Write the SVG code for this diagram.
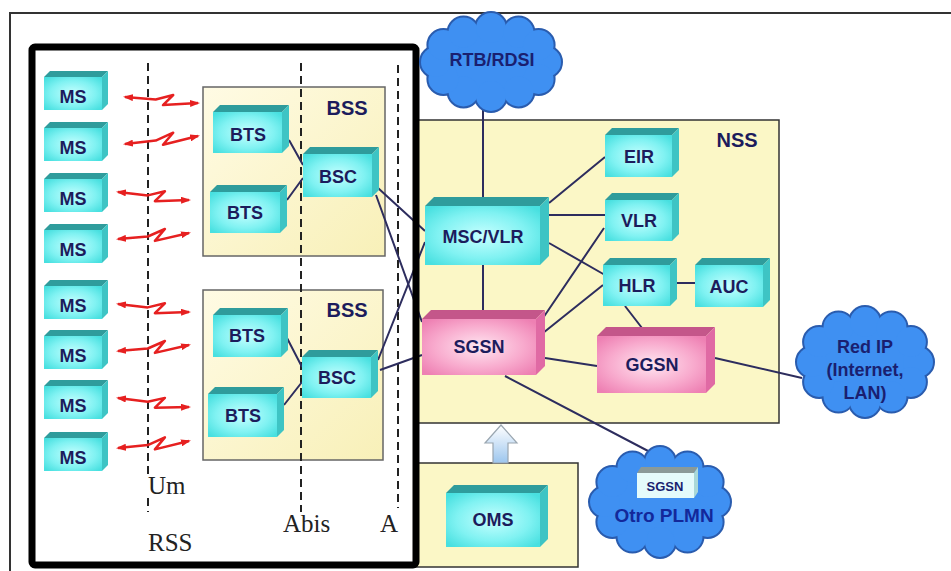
<svg xmlns="http://www.w3.org/2000/svg" xmlns:xlink="http://www.w3.org/1999/xlink" width="951" height="571" viewBox="0 0 951 571">
<style>
.fr{fill:url(#gc)} .tp{fill:#2f9c9c} .sd{fill:#3ec4c4}
.frp{fill:url(#gp)} .tpp{fill:#c4568a} .sdp{fill:#e06aa4}
.lbl{font-family:"Liberation Sans",Arial,sans-serif;font-weight:bold;font-size:18px;fill:#1c1c5c;text-anchor:middle}
.big{font-size:20px}
.ser{font-family:"Liberation Serif","Times New Roman",serif;font-size:25px;fill:#222}
.cn{stroke:#2d2d5e;stroke-width:2;fill:none}
.dash{stroke:#222;stroke-width:2;stroke-dasharray:8 5;fill:none}
.zz{stroke:#e62020;stroke-width:2.5;fill:none;stroke-linejoin:round;marker-start:url(#ra);marker-end:url(#ra)}
.area{fill:#fbf7c6;stroke:#333;stroke-width:1.5}
.bss{fill:url(#gy);stroke:#666;stroke-width:1.5}
.ctext{font-family:"Liberation Sans",Arial,sans-serif;font-weight:bold;font-size:18px;fill:#1a1f70;text-anchor:middle}
</style>
<defs>
<radialGradient id="gc" cx="50%" cy="50%" r="65%"><stop offset="0" stop-color="#c6ffff"/><stop offset="0.6" stop-color="#80f2f2"/><stop offset="1" stop-color="#48e0e0"/></radialGradient>
<radialGradient id="gp" cx="50%" cy="50%" r="65%"><stop offset="0" stop-color="#ffe6f1"/><stop offset="0.6" stop-color="#f8aacd"/><stop offset="1" stop-color="#ee80b3"/></radialGradient>
<linearGradient id="gy" x1="0" y1="0" x2="1" y2="1"><stop offset="0" stop-color="#fffbe4"/><stop offset="1" stop-color="#f8f0b8"/></linearGradient>
<linearGradient id="ga" x1="0" y1="0" x2="0" y2="1"><stop offset="0" stop-color="#ffffff"/><stop offset="1" stop-color="#9cc6ee"/></linearGradient>
<marker id="ra" viewBox="0 0 10 7" refX="8" refY="3.5" markerWidth="10" markerHeight="7" markerUnits="userSpaceOnUse" orient="auto-start-reverse"><path d="M0,0 L10,3.5 L0,7 z" fill="#e62020"/></marker>
<g id="cl1"><ellipse cx="491" cy="62" rx="55" ry="34"/><circle cx="546" cy="62" r="15"/><circle cx="538.6" cy="79" r="15"/><circle cx="518.5" cy="91.4" r="15"/><circle cx="491" cy="96" r="15"/><circle cx="463.5" cy="91.4" r="15"/><circle cx="443.4" cy="79" r="15"/><circle cx="436" cy="62" r="15"/><circle cx="443.4" cy="45" r="15"/><circle cx="463.5" cy="32.6" r="15"/><circle cx="491" cy="28" r="15"/><circle cx="518.5" cy="32.6" r="15"/><circle cx="538.6" cy="45" r="15"/></g>
<g id="cl2"><ellipse cx="865" cy="362" rx="53" ry="40"/><circle cx="918" cy="362" r="15"/><circle cx="910.9" cy="382" r="15"/><circle cx="891.5" cy="396.6" r="15"/><circle cx="865" cy="402" r="15"/><circle cx="838.5" cy="396.6" r="15"/><circle cx="819.1" cy="382" r="15"/><circle cx="812" cy="362" r="15"/><circle cx="819.1" cy="342" r="15"/><circle cx="838.5" cy="327.4" r="15"/><circle cx="865" cy="322" r="15"/><circle cx="891.5" cy="327.4" r="15"/><circle cx="910.9" cy="342" r="15"/></g>
<g id="cl3"><ellipse cx="660" cy="502" rx="55" ry="40"/><circle cx="715" cy="502" r="15"/><circle cx="707.6" cy="522" r="15"/><circle cx="687.5" cy="536.6" r="15"/><circle cx="660" cy="542" r="15"/><circle cx="632.5" cy="536.6" r="15"/><circle cx="612.4" cy="522" r="15"/><circle cx="605" cy="502" r="15"/><circle cx="612.4" cy="482" r="15"/><circle cx="632.5" cy="467.4" r="15"/><circle cx="660" cy="462" r="15"/><circle cx="687.5" cy="467.4" r="15"/><circle cx="707.6" cy="482" r="15"/></g>
</defs>
<rect width="951" height="571" fill="#fff"/>
<!-- outer frame -->
<path d="M10,571 V13 H951" fill="none" stroke="#333" stroke-width="2"/>

<!-- areas -->
<rect id="nss" class="area" x="414" y="120" width="365" height="303"/>
<text class="lbl big" x="737" y="147">NSS</text>
<rect id="oms-area" class="area" x="414" y="463" width="164" height="104"/>
<g id="bss1"><rect class="bss" x="203" y="87" width="182" height="169"/><text class="lbl big" x="347" y="115">BSS</text></g>
<g id="bss2"><rect class="bss" x="203" y="290" width="180" height="170"/><text class="lbl big" x="347" y="317">BSS</text></g>

<!-- dashed interface lines -->
<g id="interfaces">
<path class="dash" d="M148,63 V478 M148,498 V512"/>
<path class="dash" d="M301,63 V512"/>
<path class="dash" d="M398,65 V508"/>
<text class="ser" x="148" y="494">Um</text>
<text class="ser" x="283" y="532">Abis</text>
<text class="ser" x="380" y="532">A</text>
<text class="ser" x="148" y="551">RSS</text>
</g>

<!-- connectors -->
<g id="connectors">
<path class="cn" d="M289,140 L303,165 M287,200 L303,178"/>
<path class="cn" d="M287,338 L302,367 M284,405 L302,382"/>
<path class="cn" d="M378,188 L425,231 M376,195 L422,322"/>
<path class="cn" d="M378,360 L425,242 M380,370 L422,355"/>
<path class="cn" d="M483,105 V198 M483,265 V310"/>
<path class="cn" d="M549,203 L605,157 M549,215 L605,215 M549,243 L605,275"/>
<path class="cn" d="M543,318 L604,228 M543,333 L603,285"/>
<path class="cn" d="M677,283 L695,283 M625,306 L642,328"/>
<path class="cn" d="M545,358 L597,366 M715,358 L802,378 M505,376 L650,452"/>
</g>

<!-- radio links -->
<g id="radio">
<polyline class="zz" points="125,97 155.7,99.5 173.2,95 163,105.1 198,103"/>
<polyline class="zz" points="125,144 155.7,140.6 173.2,132.7 163,144.8 198,136"/>
<polyline class="zz" points="118,192 147.8,195.4 164.9,191.3 154.9,201.2 189,200"/>
<polyline class="zz" points="118,239 147.8,236.5 164.9,229 154.9,240.9 189,233"/>
<polyline class="zz" points="118,304 147.8,307.4 164.9,303.3 154.9,313.2 189,312"/>
<polyline class="zz" points="118,351 147.8,348.5 164.9,341 154.9,352.9 189,345"/>
<polyline class="zz" points="118,398 147.8,401.8 164.9,397.9 154.9,407.7 189,407"/>
<polyline class="zz" points="118,448 147.8,445.1 164.9,437.4 154.9,449.4 189,441"/>
</g>

<!-- MS nodes -->
<g id="ms1"><polygon class="tp" points="44,77 50,71 108,71 102,77"/><polygon class="sd" points="102,77 108,71 108,104 102,110"/><rect class="fr" x="44" y="77" width="58" height="33"/><text class="lbl" x="73" y="103">MS</text></g>
<g id="ms2"><polygon class="tp" points="44,128 50,122 108,122 102,128"/><polygon class="sd" points="102,128 108,122 108,155 102,161"/><rect class="fr" x="44" y="128" width="58" height="33"/><text class="lbl" x="73" y="154">MS</text></g>
<g id="ms3"><polygon class="tp" points="44,179 50,173 108,173 102,179"/><polygon class="sd" points="102,179 108,173 108,206 102,212"/><rect class="fr" x="44" y="179" width="58" height="33"/><text class="lbl" x="73" y="205">MS</text></g>
<g id="ms4"><polygon class="tp" points="44,230 50,224 108,224 102,230"/><polygon class="sd" points="102,230 108,224 108,257 102,263"/><rect class="fr" x="44" y="230" width="58" height="33"/><text class="lbl" x="73" y="256">MS</text></g>
<g id="ms5"><polygon class="tp" points="44,286 50,280 108,280 102,286"/><polygon class="sd" points="102,286 108,280 108,313 102,319"/><rect class="fr" x="44" y="286" width="58" height="33"/><text class="lbl" x="73" y="312">MS</text></g>
<g id="ms6"><polygon class="tp" points="44,336 50,330 108,330 102,336"/><polygon class="sd" points="102,336 108,330 108,363 102,369"/><rect class="fr" x="44" y="336" width="58" height="33"/><text class="lbl" x="73" y="362">MS</text></g>
<g id="ms7"><polygon class="tp" points="44,386 50,380 108,380 102,386"/><polygon class="sd" points="102,386 108,380 108,413 102,419"/><rect class="fr" x="44" y="386" width="58" height="33"/><text class="lbl" x="73" y="412">MS</text></g>
<g id="ms8"><polygon class="tp" points="44,438 50,432 108,432 102,438"/><polygon class="sd" points="102,438 108,432 108,465 102,471"/><rect class="fr" x="44" y="438" width="58" height="33"/><text class="lbl" x="73" y="464">MS</text></g>

<!-- BSS nodes -->
<g id="bts1"><polygon class="tp" points="213,112 220,105 289,105 282,112"/><polygon class="sd" points="282,112 289,105 289,146 282,153"/><rect class="fr" x="213" y="112" width="69" height="41"/><text class="lbl" x="248" y="141">BTS</text></g>
<g id="bts2"><polygon class="tp" points="210,192 217,185 287,185 280,192"/><polygon class="sd" points="280,192 287,185 287,226 280,233"/><rect class="fr" x="210" y="192" width="70" height="41"/><text class="lbl" x="245" y="219">BTS</text></g>
<g id="bsc1"><polygon class="tp" points="303,154 310,147 379,147 372,154"/><polygon class="sd" points="372,154 379,147 379,190 372,197"/><rect class="fr" x="303" y="154" width="69" height="43"/><text class="lbl" x="338" y="183">BSC</text></g>
<g id="bts3"><polygon class="tp" points="213,315 220,308 288,308 281,315"/><polygon class="sd" points="281,315 288,308 288,350 281,357"/><rect class="fr" x="213" y="315" width="68" height="42"/><text class="lbl" x="247" y="342">BTS</text></g>
<g id="bts4"><polygon class="tp" points="208,394 215,387 284,387 277,394"/><polygon class="sd" points="277,394 284,387 284,430 277,437"/><rect class="fr" x="208" y="394" width="69" height="43"/><text class="lbl" x="243" y="422">BTS</text></g>
<g id="bsc2"><polygon class="tp" points="302,357 309,350 378,350 371,357"/><polygon class="sd" points="371,357 378,350 378,391 371,398"/><rect class="fr" x="302" y="357" width="69" height="41"/><text class="lbl" x="337" y="384">BSC</text></g>

<!-- thick RSS frame -->
<rect id="rss" x="32" y="47" width="384" height="518" rx="3" fill="none" stroke="#000" stroke-width="7"/>

<!-- NSS nodes -->
<g id="mscvlr"><polygon class="tp" points="425,206 434,197 549,197 540,206"/><polygon class="sd" points="540,206 549,197 549,256 540,265"/><rect class="fr" x="425" y="206" width="115" height="59"/><text class="lbl" x="483" y="243">MSC/VLR</text></g>
<g id="eir"><polygon class="tp" points="605,135 612,128 679,128 672,135"/><polygon class="sd" points="672,135 679,128 679,170 672,177"/><rect class="fr" x="605" y="135" width="67" height="42"/><text class="lbl" x="639" y="163">EIR</text></g>
<g id="vlr"><polygon class="tp" points="605,200 612,193 679,193 672,200"/><polygon class="sd" points="672,200 679,193 679,234 672,241"/><rect class="fr" x="605" y="200" width="67" height="41"/><text class="lbl" x="639" y="227">VLR</text></g>
<g id="hlr"><polygon class="tp" points="603,265 610,258 677,258 670,265"/><polygon class="sd" points="670,265 677,258 677,299 670,306"/><rect class="fr" x="603" y="265" width="67" height="41"/><text class="lbl" x="637" y="292">HLR</text></g>
<g id="auc"><polygon class="tp" points="695,265 702,258 770,258 763,265"/><polygon class="sd" points="763,265 770,258 770,300 763,307"/><rect class="fr" x="695" y="265" width="68" height="42"/><text class="lbl" x="729" y="293">AUC</text></g>
<g id="sgsn"><polygon class="tpp" points="422,319 431,310 545,310 536,319"/><polygon class="sdp" points="536,319 545,310 545,366 536,375"/><rect class="frp" x="422" y="319" width="114" height="56"/><text class="lbl" x="479" y="353">SGSN</text></g>
<g id="ggsn"><polygon class="tpp" points="597,336 606,327 715,327 706,336"/><polygon class="sdp" points="706,336 715,327 715,384 706,393"/><rect class="frp" x="597" y="336" width="109" height="57"/><text class="lbl" x="652" y="371">GGSN</text></g>
<g id="oms"><polygon class="tp" points="446,493 454,485 548,485 540,493"/><polygon class="sd" points="540,493 548,485 548,539 540,547"/><rect class="fr" x="446" y="493" width="94" height="54"/><text class="lbl" x="493" y="526">OMS</text></g>

<!-- management arrow -->
<path id="oms-arrow" d="M493,463 V443 H485 L501,425 L517,443 H508 V463 Z" fill="url(#ga)" stroke="#9aa6b0" stroke-width="1.2"/>

<!-- clouds -->
<g id="rtb">
<use xlink:href="#cl1" href="#cl1" fill="#2a5cae" stroke="#2a5cae" stroke-width="4"/>
<use xlink:href="#cl1" href="#cl1" fill="#3f90f2"/>
<text class="ctext" x="492" y="66">RTB/RDSI</text>
</g>
<g id="redip">
<use xlink:href="#cl2" href="#cl2" fill="#2a5cae" stroke="#2a5cae" stroke-width="4"/>
<use xlink:href="#cl2" href="#cl2" fill="#3f90f2"/>
<text class="ctext" x="865" y="353">Red IP</text>
<text class="ctext" x="865" y="376">(Internet,</text>
<text class="ctext" x="865" y="399">LAN)</text>
</g>
<g id="otro">
<use xlink:href="#cl3" href="#cl3" fill="#2a5cae" stroke="#2a5cae" stroke-width="4"/>
<use xlink:href="#cl3" href="#cl3" fill="#3f90f2"/>
<polygon points="637,473 641,467 698,467 694,473" fill="#8a9a98"/>
<polygon points="694,473 698,467 698,492 694,498" fill="#a9d8d8"/>
<rect x="637" y="473" width="57" height="25" fill="#e4fbfb"/>
<text class="ctext" x="665" y="491" style="font-size:13px">SGSN</text>
<text class="ctext" x="664" y="522" style="font-size:19px;fill:#13289a">Otro PLMN</text>
</g>
</svg>
